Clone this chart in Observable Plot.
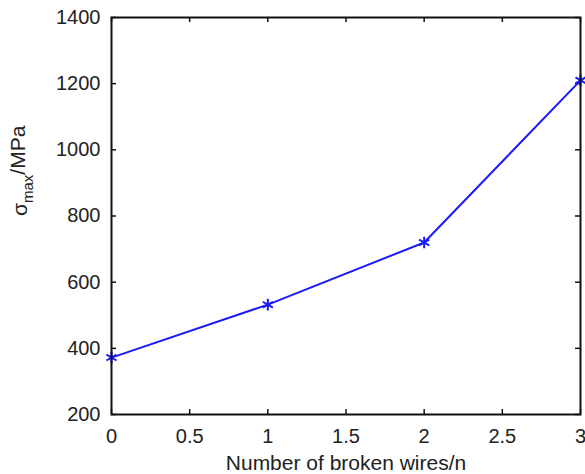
<!DOCTYPE html>
<html>
<head>
<meta charset="utf-8">
<script src="https://cdn.jsdelivr.net/npm/d3@7"></script>
<script src="https://cdn.jsdelivr.net/npm/@observablehq/plot@0.6"></script>
<style>
  html, body { margin: 0; padding: 0; background: #fff; }
  svg { display: block; }
</style>
</head>
<body>
<div id="chart"></div>
<script>
// Data
const brokenWires = [0, 1, 2, 3];
const sigmaMax = [372, 532, 720, 1210];
const xTicks = [0, 0.5, 1, 1.5, 2, 2.5, 3];
const yTicks = [200, 400, 600, 800, 1000, 1200, 1400];
const xLabel = "Number of broken wires/n";
const yLabelMain = "σ";
const yLabelSub = "max";
const yLabelTail = "/MPa";

const data = brokenWires.map((n, i) => ({n, s: sigmaMax[i]}));

const W = 585, H = 474;
const mL = 111, mR = 5, mT = 17, mB = 60;
const innerH = H - mT - mB;
const tickLen = 5;

const chart = Plot.plot({
  width: W,
  height: H,
  marginLeft: mL,
  marginRight: mR,
  marginTop: mT,
  marginBottom: mB,
  style: {fontFamily: "'Liberation Sans', Arial, sans-serif", fontSize: "20px", color: "#222", background: "#fff", overflow: "visible"},
  x: {domain: [0, 3], ticks: xTicks},
  y: {domain: [200, 1400], ticks: yTicks},
  marks: [
    Plot.axisX(xTicks, {tickSize: 0, tickPadding: 14, fontSize: 20, label: null, tickFormat: d => String(d)}),
    Plot.axisY(yTicks, {tickSize: 0, tickPadding: 11, fontSize: 20, label: null, tickFormat: d => String(d)}),
    // inward ticks, bottom & top
    Plot.tickX(xTicks, {x: d => d, stroke: "#111", strokeWidth: 1.5, insetTop: innerH - tickLen}),
    Plot.tickX(xTicks, {x: d => d, stroke: "#111", strokeWidth: 1.5, insetBottom: innerH - tickLen}),
    // inward ticks, left & right
    Plot.tickY(yTicks, {y: d => d, stroke: "#111", strokeWidth: 1.5, insetRight: (W - mL - mR) - tickLen}),
    Plot.tickY(yTicks, {y: d => d, stroke: "#111", strokeWidth: 1.5, insetLeft: (W - mL - mR) - tickLen}),
    Plot.line(data, {x: "n", y: "s", stroke: "#1a1aff", strokeWidth: 2}),
    Plot.dot(data, {x: "n", y: "s", symbol: "asterisk", r: 5.5, stroke: "#1a1aff", strokeWidth: 2}),
    Plot.frame({stroke: "#111", strokeWidth: 2}),
    Plot.text([xLabel], {text: d => d, frameAnchor: "bottom", dy: 49, fontSize: 21, fill: "#222", lineAnchor: "middle"}),
    Plot.text([yLabelMain], {text: d => d, frameAnchor: "left", dx: -91, rotate: -90, fontSize: 21, fill: "#222", lineAnchor: "middle", className: "ylab"})
  ]
});

// Build the subscripted y label
const t = chart.querySelector(".ylab text");
if (t) {
  t.textContent = "";
  const ns = "http://www.w3.org/2000/svg";
  const a = document.createElementNS(ns, "tspan");
  a.textContent = yLabelMain;
  const b = document.createElementNS(ns, "tspan");
  b.textContent = yLabelSub;
  b.setAttribute("dy", "0.4em");
  b.setAttribute("font-size", "15");
  const c = document.createElementNS(ns, "tspan");
  c.textContent = yLabelTail;
  c.setAttribute("dy", "-0.4em");
  t.append(a, b, c);
}

document.getElementById("chart").append(chart);
</script>
</body>
</html>
